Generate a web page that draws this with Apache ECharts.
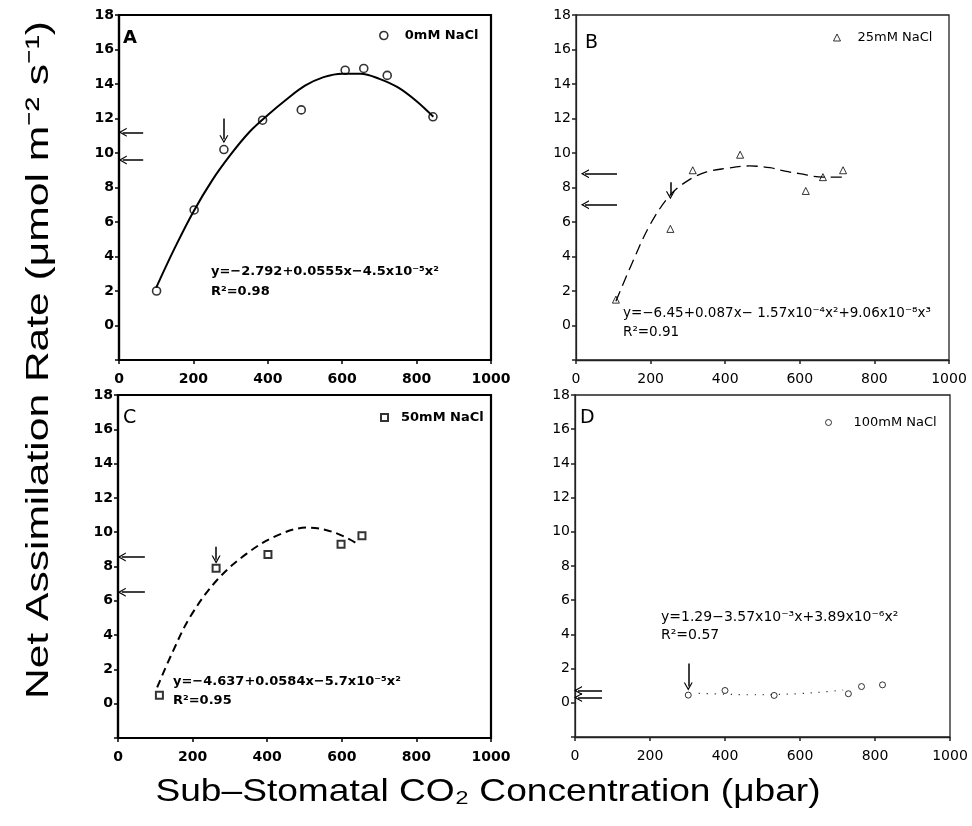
<!DOCTYPE html>
<html>
<head>
<meta charset="utf-8">
<script src="https://cdn.jsdelivr.net/npm/echarts@6/dist/echarts.min.js"></script>
<style>
html,body{margin:0;padding:0;background:#fff;}
#main{width:972px;height:826px;}
</style>
</head>
<body>
<div id="main"></div>
<script>
// measured points (CO2 in ubar, assimilation rate)
var co2A = [101, 202, 282, 386, 490, 608, 658, 721, 844];
var rateA = [2.0, 6.7, 10.2, 11.9, 12.5, 14.8, 14.9, 14.5, 12.1];
var co2B = [107, 253, 313, 440, 616, 662, 716];
var rateB = [1.5, 5.6, 9.0, 9.9, 7.8, 8.6, 9.0];
var co2C = [111, 263, 402, 598, 654];
var rateC = [0.5, 7.9, 8.7, 9.3, 9.8];
var co2D = [302, 400, 531, 729, 764, 820];
var rateD = [0.45, 0.72, 0.43, 0.53, 0.95, 1.05];

// fitted curves
var fitA_x = [100, 150, 200, 250, 300, 350, 400, 450, 500, 550, 600, 650, 700, 750, 800, 845];
var fitA_y = [2.2, 4.5, 6.6, 8.4, 9.9, 11.2, 12.2, 13.1, 13.9, 14.4, 14.6, 14.6, 14.3, 13.8, 13.0, 12.1];
var fitB_x = [107, 150, 200, 254, 300, 350, 400, 465, 520, 560, 600, 662, 690, 716];
var fitB_y = [1.4, 3.6, 5.9, 7.6, 8.4, 8.9, 9.1, 9.25, 9.15, 8.95, 8.8, 8.6, 8.6, 8.6];
var fitC_x = [105, 144, 193, 265, 345, 426, 507, 578, 641];
var fitC_y = [0.95, 2.9, 5.05, 7.2, 8.75, 9.8, 10.27, 10.0, 9.34];
var fitD_x = [330, 400, 460, 530, 600, 660, 715];
var fitD_y = [0.55, 0.5, 0.47, 0.48, 0.54, 0.63, 0.75];

// reference arrows on the y axis: [tip x, tail x] and the levels
var sideArrowX = [[10, 65], [24, 110], [10, 72], [8, 72]];
var sideArrowY = [[11.2, 9.6], [8.8, 7.0], [8.55, 6.5], [0.72, 0.31]];
// down arrows: [x, tip y, tail y]
var downArrow = [[282, 10.8, 12.0], [253, 7.55, 8.3], [263, 8.4, 9.15], [302, 0.95, 2.3]];

var labels = ['0mM NaCl', '25mM NaCl', '50mM NaCl', '100mM NaCl'];
var letters = ['A', 'B', 'C', 'D'];
var equations = [
  'y=\u22122.792+0.0555x\u22124.5x10\u207B\u2075x\u00B2',
  'y=\u22126.45+0.087x\u2212 1.57x10\u207B\u2074x\u00B2+9.06x10\u207B\u2078x\u00B3',
  'y=\u22124.637+0.0584x\u22125.7x10\u207B\u2075x\u00B2',
  'y=1.29\u22123.57x10\u207B\u00B3x+3.89x10\u207B\u2076x\u00B2'
];
var rsq = ['R\u00B2=0.98', 'R\u00B2=0.91', 'R\u00B2=0.95', 'R\u00B2=0.57'];

var FONT = '"DejaVu Sans", "Liberation Sans", sans-serif';
var TITLE_FONT = '"Liberation Sans", Arial, sans-serif';
var chevron = 'path://M5,0 L10,9 L8.6,9 L5,2.6 L1.4,9 L0,9 Z';

var zip = function(xs, ys){
  var out = [];
  for (var i = 0; i < xs.length; i++) out.push([xs[i], ys[i]]);
  return out;
};

var panels = [
  {grid:{left:119, top:15, width:372, height:345}, pts:[co2A, rateA], fit:[fitA_x, fitA_y],
   symbol:'circle', size:8, bw:1.6, bold:true, line:{type:'solid', width:2},
   legend:{left:374, top:24, pad:12}, letter:[123, 38, 18, true], eq:[211, 272, 292, 13]},
  {grid:{left:576, top:15, width:373, height:345}, pts:[co2B, rateB], fit:[fitB_x, fitB_y],
   symbol:'triangle', size:7, bw:1, bold:false, line:{type:[11, 6], width:1.3},
   legend:{left:828, top:26, pad:12}, letter:[585, 43, 19, false], eq:[623, 313, 332, 13.5]},
  {grid:{left:118, top:395, width:373, height:343}, pts:[co2C, rateC], fit:[fitC_x, fitC_y],
   symbol:'rect', size:7, bw:2, bold:true, line:{type:[8, 5], width:2},
   legend:{left:375, top:406, pad:8}, letter:[123, 418, 19, false], eq:[173, 682, 701, 13]},
  {grid:{left:575, top:395, width:375, height:342}, pts:[co2D, rateD], fit:[fitD_x, fitD_y],
   symbol:'circle', size:6, bw:1, bold:false, line:{type:[1, 7], width:1.2},
   legend:{left:820, top:411, pad:17}, letter:[580, 418, 19, false], eq:[661, 617, 635, 14]}
];

var option = {
  backgroundColor: '#fff',
  animation: false,
  textStyle: {fontFamily: FONT},
  grid: [], xAxis: [], yAxis: [], series: [], legend: [], graphic: []
};

panels.forEach(function(p, i){
  var axisColor = p.bold ? '#000' : '#222';
  var axisW = p.bold ? 2.2 : 1.3;
  var tickFont = {color:'#000', fontSize:14, fontWeight:p.bold ? 'bold' : 'normal', fontFamily:FONT};
  option.grid.push({left:p.grid.left, top:p.grid.top, width:p.grid.width, height:p.grid.height,
    show:true, borderColor:axisColor, borderWidth:axisW, backgroundColor:'transparent'});
  option.xAxis.push({
    type:'value', gridIndex:i, min:0, max:1000, interval:200,
    axisLine:{show:true, onZero:false, lineStyle:{color:axisColor, width:axisW}},
    axisTick:{show:true, length:4, lineStyle:{color:axisColor, width:1.5}},
    axisLabel:Object.assign({margin:12, formatter:function(v){ return String(v); }}, tickFont),
    splitLine:{show:false}
  });
  option.yAxis.push({
    type:'value', gridIndex:i, min:-2, max:18, interval:2,
    axisLine:{show:true, onZero:false, lineStyle:{color:axisColor, width:axisW}},
    axisTick:{show:true, length:4, lineStyle:{color:axisColor, width:1.5}},
    axisLabel:Object.assign({margin:5, formatter:function(v){ return v < 0 ? '' : String(v); }}, tickFont),
    splitLine:{show:false}
  });

  var marks = [];
  sideArrowY[i].forEach(function(yv){
    marks.push([{coord:[sideArrowX[i][0], yv]}, {coord:[sideArrowX[i][1], yv]}]);
  });
  marks.push([{coord:[downArrow[i][0], downArrow[i][1]]}, {coord:[downArrow[i][0], downArrow[i][2]]}]);

  option.series.push({
    name:labels[i] + ' fit', type:'line', xAxisIndex:i, yAxisIndex:i,
    data:zip(p.fit[0], p.fit[1]), smooth:0.35, showSymbol:false, silent:true,
    lineStyle:{color:'#000', width:p.line.width, type:p.line.type},
    markLine:{silent:true, symbol:[chevron, 'none'], symbolSize:[9, 9], symbolKeepAspect:true,
      label:{show:false}, lineStyle:{color:'#000', width:1.5, type:'solid'},
      data:marks}
  });
  option.series.push({
    name:labels[i], type:'scatter', xAxisIndex:i, yAxisIndex:i,
    data:zip(p.pts[0], p.pts[1]), symbol:p.symbol, symbolSize:p.size,
    itemStyle:{color:'#fff', borderColor:'#000', borderWidth:p.bw}
  });
  option.legend.push({
    data:[{name:labels[i], icon:p.symbol}], left:p.legend.left, top:p.legend.top,
    itemWidth:p.size, itemHeight:p.size, selectedMode:false,
    itemStyle:{color:'#fff', borderColor:'#000', borderWidth:p.bw},
    textStyle:{color:'#000', fontSize:13, fontWeight:p.bold ? 'bold' : 'normal', fontFamily:FONT, padding:[0, 0, 0, p.legend.pad]}
  });

  option.graphic.push({type:'text', x:p.letter[0], y:p.letter[1], silent:true,
    style:{text:letters[i], fill:'#000', font:(p.letter[3] ? 'bold ' : '') + p.letter[2] + 'px ' + FONT, verticalAlign:'middle', align:'left'}});
  option.graphic.push({type:'text', x:p.eq[0], y:p.eq[1], silent:true,
    style:{text:equations[i], fill:'#000', font:(p.bold ? 'bold ' : '') + p.eq[3] + 'px ' + FONT, verticalAlign:'middle', align:'left'}});
  option.graphic.push({type:'text', x:p.eq[0], y:p.eq[2], silent:true,
    style:{text:rsq[i], fill:'#000', font:(p.bold ? 'bold ' : '') + p.eq[3] + 'px ' + FONT, verticalAlign:'middle', align:'left'}});
});

// shared axis titles
option.graphic.push({type:'text', x:39, y:360, rotation:Math.PI / 2, scaleX:1.33, silent:true,
  style:{text:'Net Assimilation Rate (\u03BCmol m\u207B\u00B2 s\u207B\u00B9)', fill:'#000',
    font:'32px ' + TITLE_FONT, align:'center', verticalAlign:'middle'}});
option.graphic.push({type:'text', x:488, y:792, scaleX:1.16, silent:true,
  style:{text:'Sub\u2013Stomatal CO\u2082 Concentration (\u03BCbar)', fill:'#000',
    font:'32px ' + TITLE_FONT, align:'center', verticalAlign:'middle'}});

var chart = echarts.init(document.getElementById('main'), null, {renderer:'canvas'});
chart.setOption(option);
</script>
</body>
</html>
